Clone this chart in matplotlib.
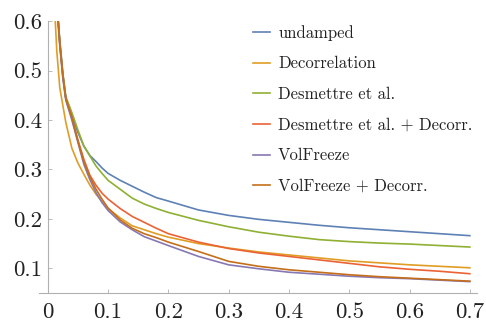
import numpy as np
import matplotlib
matplotlib.use("Agg")
import matplotlib.pyplot as plt

plt.rcParams['font.family'] = ['cmr10', 'DejaVu Serif']
plt.rcParams['axes.formatter.use_mathtext'] = True

# shared x grid
x = [0.01, 0.015, 0.02, 0.025, 0.03, 0.04, 0.05, 0.06, 0.07, 0.08, 0.09, 0.1, 0.12, 0.14,
     0.16, 0.18, 0.2, 0.25, 0.3, 0.35, 0.4, 0.45, 0.5, 0.55, 0.6, 0.65, 0.7]

undamped = [0.72, 0.64, 0.56, 0.495, 0.445, 0.41, 0.375, 0.347, 0.328, 0.316, 0.303, 0.292,
            0.278, 0.266, 0.254, 0.243, 0.236, 0.218, 0.207, 0.199, 0.193, 0.187,
            0.182, 0.178, 0.174, 0.170, 0.166]
decorr = [0.66, 0.54, 0.465, 0.43, 0.395, 0.343, 0.313, 0.290, 0.268, 0.250, 0.235, 0.221,
          0.202, 0.186, 0.178, 0.170, 0.163, 0.150, 0.141, 0.133, 0.127, 0.121,
          0.115, 0.111, 0.107, 0.104, 0.101]
desmettre = [0.72, 0.64, 0.56, 0.495, 0.447, 0.415, 0.38, 0.347, 0.327, 0.307, 0.292, 0.278,
             0.260, 0.242, 0.230, 0.221, 0.213, 0.197, 0.184, 0.173, 0.165, 0.158,
             0.154, 0.151, 0.149, 0.146, 0.143]
desm_decorr = [0.72, 0.64, 0.555, 0.49, 0.443, 0.405, 0.36, 0.32, 0.288, 0.268, 0.252, 0.240,
               0.221, 0.205, 0.193, 0.181, 0.170, 0.153, 0.140, 0.131, 0.124, 0.117,
               0.110, 0.103, 0.098, 0.094, 0.089]
volfreeze = [0.72, 0.63, 0.55, 0.485, 0.44, 0.40, 0.355, 0.31, 0.279, 0.253, 0.233, 0.217,
             0.194, 0.178, 0.164, 0.155, 0.146, 0.124, 0.107, 0.099, 0.092, 0.088,
             0.084, 0.081, 0.079, 0.076, 0.073]
vol_decorr = [0.72, 0.64, 0.555, 0.49, 0.443, 0.405, 0.357, 0.315, 0.285, 0.26, 0.24, 0.222,
              0.198, 0.181, 0.170, 0.162, 0.153, 0.134, 0.114, 0.104, 0.097, 0.092,
              0.087, 0.083, 0.080, 0.077, 0.074]

labels = ["undamped", "Decorrelation", "Desmettre et al.",
          "Desmettre et al. + Decorr.", "VolFreeze", "VolFreeze + Decorr."]
colors = ["#5E81B5", "#E19C24", "#8FB032", "#EB6235", "#8778B3", "#C56E1A"]

xticks = [0, 0.1, 0.2, 0.3, 0.4, 0.5, 0.6, 0.7]
xtick_labels = ["0", "0.1", "0.2", "0.3", "0.4", "0.5", "0.6", "0.7"]
yticks = [0.1, 0.2, 0.3, 0.4, 0.5, 0.6]
ytick_labels = ["0.1", "0.2", "0.3", "0.4", "0.5", "0.6"]

fig = plt.figure(figsize=(4.86, 3.21), dpi=100)
ax = fig.add_axes([0.0796, 0.0872, 0.902, 0.847])

series = [undamped, decorr, desmettre, desm_decorr, volfreeze, vol_decorr]
for ys, lab, c in zip(series, labels, colors):
    ax.plot(x, ys, color=c, lw=1.2, label=lab)

ax.set_xlim(-0.015, 0.712)
ax.set_ylim(0.05, 0.6)
ax.spines['top'].set_visible(False)
ax.spines['right'].set_visible(False)
ax.spines['left'].set_position(('data', 0))
for s in ['left', 'bottom']:
    ax.spines[s].set_color('#b0b0b0')
    ax.spines[s].set_linewidth(0.8)

ax.set_xticks(xticks, xtick_labels)
ax.set_yticks(yticks, ytick_labels)
ax.tick_params(direction='in', length=3, width=0.6, color='#b0b0b0',
               labelsize=16.5, labelcolor='#222222', pad=4)
ax.tick_params(axis='x', pad=7)

ax.legend(loc='upper left', bbox_to_anchor=(0.507, 0.943), bbox_transform=fig.transFigure,
          frameon=False, fontsize=12, handlelength=1.0, handletextpad=0.5,
          labelspacing=0.92, labelcolor='#222222', borderaxespad=0)

fig.savefig("out.png", dpi=100)
